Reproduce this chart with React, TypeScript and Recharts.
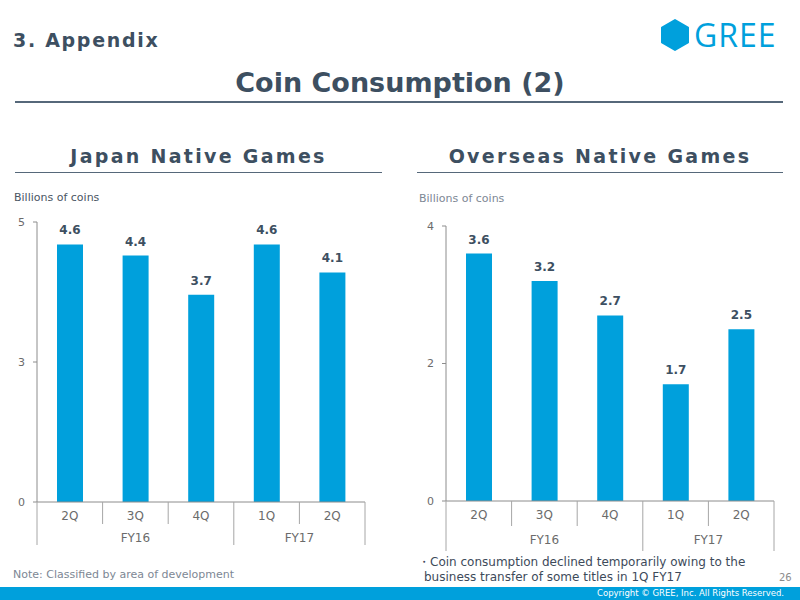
import React from 'react';
import { BarChart, Bar, XAxis, YAxis, LabelList } from 'recharts';

// Quarter / fiscal-year categories shared by both panels
const quarters = ['2Q', '3Q', '4Q', '1Q', '2Q'];
const fiscalYears = ['FY16', 'FY16', 'FY16', 'FY17', 'FY17'];

// Coin consumption, billions of coins
const japanCoins = [4.6, 4.4, 3.7, 4.6, 4.1];
const overseasCoins = [3.6, 3.2, 2.7, 1.7, 2.5];

// Axis ticks and their printed labels
const japanTicks = [0, 2.5, 5];
const japanTickLabels = ['0', '3', '5'];
const overseasTicks = [0, 2, 4];
const overseasTickLabels = ['0', '2', '4'];

const FONT = '"DejaVu Sans", Verdana, sans-serif';
const NAVY = '#3d4f61';
const BLUE = '#00a0dc';
const GRID = '#a6a6a6';

type PanelProps = {
  values: number[];
  ticks: number[];
  tickLabels: string[];
  domainMax: number;
  left: number;
  top: number;
  width: number;
  height: number;
  margin: { top: number; right: number; bottom: number; left: number };
  yAxisWidth: number;
  qDepth: number;
  fyDepth: number;
};

const makeRows = (values: number[]) =>
  values.map((v, i) => ({ key: i, q: quarters[i], fy: fiscalYears[i], value: v }));

function CategoryTick(props: any) {
  const { x, y, index, bw, qDepth, fyDepth } = props;
  const i = index as number;
  const half = bw / 2;
  const parts: React.ReactNode[] = [];
  parts.push(
    <text key="q" x={x} y={y + 18} textAnchor="middle" fontSize={12} fill="#6b6b6b" fontFamily={FONT}>
      {quarters[i]}
    </text>
  );
  if (i === 0) {
    parts.push(<line key="l0" x1={x - half} x2={x - half} y1={y} y2={y + fyDepth} stroke={GRID} />);
  }
  const last = i === quarters.length - 1;
  const boundary = last || fiscalYears[i + 1] !== fiscalYears[i];
  parts.push(
    <line key="r" x1={x + half} x2={x + half} y1={y} y2={y + (boundary ? fyDepth : qDepth)} stroke={GRID} />
  );
  const first = i === 0 || fiscalYears[i - 1] !== fiscalYears[i];
  if (first) {
    let count = 0;
    while (i + count < fiscalYears.length && fiscalYears[i + count] === fiscalYears[i]) count++;
    const cx = x - half + (count * bw) / 2;
    parts.push(
      <text key="fy" x={cx} y={y + qDepth + 18} textAnchor="middle" fontSize={12} fill="#6b6b6b" fontFamily={FONT}>
        {fiscalYears[i]}
      </text>
    );
  }
  return <g>{parts}</g>;
}

function Panel(p: PanelProps) {
  const data = makeRows(p.values);
  const plotW = p.width - p.margin.left - p.margin.right - p.yAxisWidth;
  const bw = plotW / data.length;
  return (
    <div style={{ position: 'absolute', left: p.left, top: p.top }}>
      <BarChart width={p.width} height={p.height} data={data} margin={p.margin} barSize={26}>
        <XAxis
          dataKey="key"
          type="category"
          height={50}
          interval={0}
          stroke="#8c8c8c"
          tickLine={false}
          tickSize={0}
          tickMargin={0}
          tick={<CategoryTick bw={bw} qDepth={p.qDepth} fyDepth={p.fyDepth} />}
        />
        <YAxis
          width={p.yAxisWidth}
          domain={[0, p.domainMax]}
          ticks={p.ticks}
          interval={0}
          stroke="#8c8c8c"
          tickSize={4}
          tickMargin={8}
          tick={{ fontSize: 11, fill: '#6b6b6b', fontFamily: FONT }}
          tickFormatter={(v: number) => p.tickLabels[p.ticks.indexOf(v)]}
        />
        <Bar dataKey="value" fill={BLUE} isAnimationActive={false}>
          <LabelList
            dataKey="value"
            position="top"
            offset={10}
            fill={NAVY}
            fontSize={12}
            fontWeight="bold"
            fontFamily={FONT}
            formatter={(v: any) => Number(v).toFixed(1)}
          />
        </Bar>
      </BarChart>
    </div>
  );
}

function Logo() {
  // pointy-top hexagon mark followed by the wordmark
  const cx = 675;
  const cy = 35;
  const r = 15;
  const pts = Array.from({ length: 6 }, (_, k) => {
    const a = (Math.PI / 3) * k - Math.PI / 2;
    return `${cx + r * Math.cos(a)},${cy + r * Math.sin(a)}`;
  }).join(' ');
  return (
    <svg width={800} height={70} style={{ position: 'absolute', left: 0, top: 0 }}>
      <polygon points={pts} fill={BLUE} stroke={BLUE} strokeWidth={2} strokeLinejoin="round" />
      <text x={694} y={47} fontSize={32} fill={BLUE} fontFamily='"Open Sans", sans-serif' letterSpacing={1}>
        GREE
      </text>
    </svg>
  );
}

const txt = (style: React.CSSProperties): React.CSSProperties => ({
  position: 'absolute',
  fontFamily: FONT,
  whiteSpace: 'nowrap',
  lineHeight: 1,
  ...style,
});

export default function App() {
  return (
    <div
      style={{
        position: 'absolute',
        left: 0,
        top: 0,
        width: 800,
        height: 600,
        background: '#fff',
        overflow: 'hidden',
        fontFamily: FONT,
      }}
    >
      <div style={txt({ left: 13, top: 31, fontSize: 19, fontWeight: 'bold', color: NAVY, letterSpacing: 1.7 })}>
        3. Appendix
      </div>
      <Logo />
      <div style={txt({ left: 0, width: 800, top: 69, textAlign: 'center', fontSize: 27, fontWeight: 'bold', color: NAVY })}>
        Coin Consumption (2)
      </div>
      <div style={{ position: 'absolute', left: 15, top: 101, width: 768, height: 2, background: '#56687a' }} />

      <div style={txt({ left: 15, width: 367, top: 147, textAlign: 'center', fontSize: 19, fontWeight: 'bold', color: NAVY, letterSpacing: 2.3 })}>
        Japan Native Games
      </div>
      <div style={{ position: 'absolute', left: 15, top: 172, width: 367, height: 1, background: '#56687a' }} />
      <div style={txt({ left: 417, width: 366, top: 147, textAlign: 'center', fontSize: 19, fontWeight: 'bold', color: NAVY, letterSpacing: 2.3 })}>
        Overseas Native Games
      </div>
      <div style={{ position: 'absolute', left: 417, top: 172, width: 366, height: 1, background: '#56687a' }} />

      <div style={txt({ left: 14, top: 192, fontSize: 11, color: '#4a5563' })}>Billions of coins</div>
      <div style={txt({ left: 419, top: 193, fontSize: 11, color: '#7d8794' })}>Billions of coins</div>

      <Panel
        values={japanCoins}
        ticks={japanTicks}
        tickLabels={japanTickLabels}
        domainMax={5}
        left={0}
        top={200}
        width={400}
        height={360}
        margin={{ top: 22, right: 35, bottom: 8, left: 7 }}
        yAxisWidth={30}
        qDepth={22}
        fyDepth={43}
      />
      <Panel
        values={overseasCoins}
        ticks={overseasTicks}
        tickLabels={overseasTickLabels}
        domainMax={4}
        left={400}
        top={200}
        width={400}
        height={360}
        margin={{ top: 26, right: 26, bottom: 9, left: 16 }}
        yAxisWidth={30}
        qDepth={25}
        fyDepth={50}
      />

      <div style={txt({ left: 13, top: 569, fontSize: 11, color: '#7d8794' })}>Note: Classified by area of development</div>
      <div style={txt({ left: 418, top: 556, fontSize: 12, color: '#3d4a5a' })}>
        ・Coin consumption declined temporarily owing to the
      </div>
      <div style={txt({ left: 424, top: 571, fontSize: 12, color: '#3d4a5a' })}>
        business transfer of some titles in 1Q FY17
      </div>
      <div style={txt({ left: 779, top: 573, fontSize: 10, color: '#8c8c8c' })}>26</div>

      <div style={{ position: 'absolute', left: 0, top: 587, width: 800, height: 13, background: BLUE }} />
      <div style={txt({ left: 597, top: 589, fontSize: 8.5, color: '#ffffff' })}>
        Copyright © GREE, Inc. All Rights Reserved.
      </div>
    </div>
  );
}
